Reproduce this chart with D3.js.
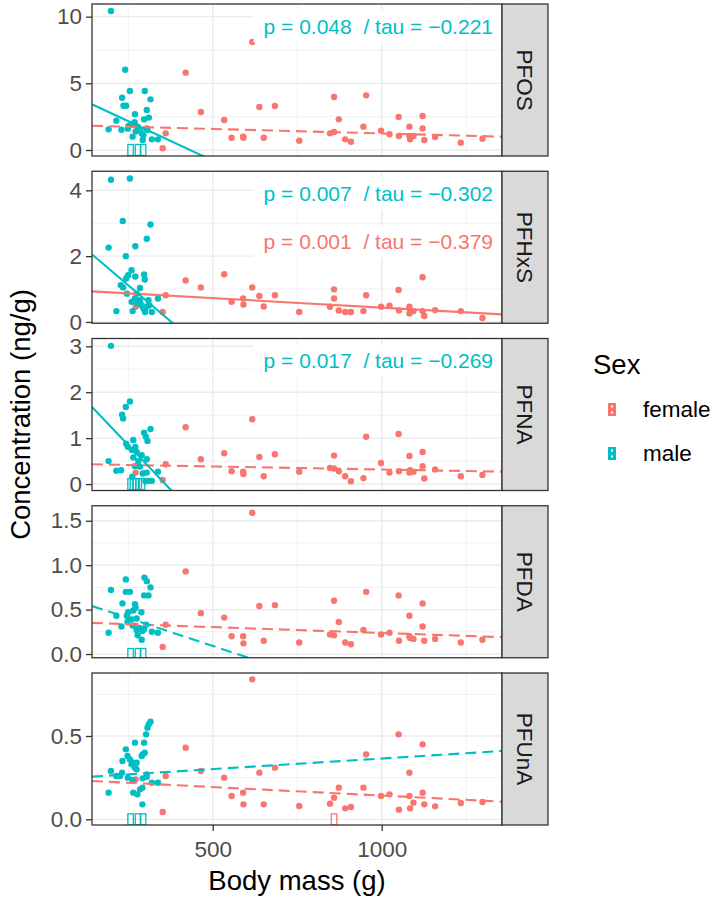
<!DOCTYPE html>
<html><head><meta charset="utf-8">
<script src="https://cdn.jsdelivr.net/npm/d3@7"></script>
<style>
body{margin:0;background:#fff}
text{font-family:"Liberation Sans",Arial,Helvetica,sans-serif}
</style>
</head><body>
<svg id="c" width="715" height="900"></svg>
<script>
// ---------------- DATA ----------------
const compounds = ["PFOS", "PFHxS", "PFNA", "PFDA", "PFUnA"];
const sexes = ["female", "male"];

// body mass (g) of females, same birds in every panel
const femaleMass = [272,352,361,420,465,534,556,590,591,617,638,651,684,756,847,859,859,873,892,909,
                    946,954,998,1023,1050,1051,1082,1082,1084,1094,1121,1121,1126,1158,1234,1298];
// female concentrations (ng/g), same order as femaleMass; 0 = below detection
const femalePFOS  = [1.4,0.13,1.25,5.8,2.85,2.25,0.92,1.0,0.92,8.1,3.22,0.92,3.3,0.7,1.25,3.97,1.35,2.3,0.8,0.62,
                     1.75,4.1,1.45,1.18,2.48,1.05,1.75,1.05,0.8,1.05,2.55,1.62,0.75,0.97,0.55,0.85];
const femalePFHxS = [0.46,0.3,0.81,1.26,1.05,1.45,0.61,0.71,0.53,1.05,0.79,0.47,0.81,0.3,0.46,0.99,0.71,0.35,0.3,0.3,
                     0.33,0.81,0.46,0.49,0.97,0.35,0.46,0.26,0.3,0.33,1.36,0.33,0.18,0.36,0.33,0.12];
const femalePFNA  = [0.25,0.09,0.43,1.24,0.54,0.67,0.28,0.27,0.22,1.41,0.59,0.17,0.65,0.27,0.35,0.62,0.34,0.28,0.17,0.06,
                     0.13,1.03,0.46,0.25,1.09,0.28,0.61,0.25,0.3,0.27,0.7,0.39,0.12,0.32,0.17,0.2];
const femalePFDA  = [0.32,0.08,0.33,0.93,0.46,0.41,0.2,0.2,0.12,1.59,0.54,0.15,0.55,0.13,0.22,0.6,0.21,0.36,0.13,0.11,
                     0.27,0.7,0.22,0.24,0.66,0.15,0.43,0.2,0.18,0.17,0.57,0.31,0.15,0.17,0.13,0.16];
const femalePFUnA = [0.24,0.044,0.26,0.43,0.29,0.25,0.14,0.16,0.09,0.84,0.28,0.09,0.31,0.08,0.094,0.13,0,0.19,0.066,0.074,
                     0.19,0.39,0.14,0.15,0.51,0.058,0.28,0.14,0.066,0.1,0.45,0.16,0.09,0.078,0.098,0.104];

// males: [body mass (g), concentration (ng/g)]; 0 = below detection
const malePFOS = [[199,10.43],[241,6.02],[255,4.43],[299,4.43],[232,3.92],[316,3.8],[236,3.32],[244,3.32],[305,3.0],
  [270,2.68],[311,2.43],[297,2.3],[215,2.2],[269,2.08],[251,1.8],[261,1.93],[278,1.75],[192,1.55],[230,1.52],[285,1.5],
  [307,1.5],[305,1.62],[320,0.8],[338,0.8],[263,1.0],[290,1.25],[293,0.75],[295,1.1],[273,1.4],[249,1.6],
  [257,0],[279,0],[294,0]];
const malePFHxS = [[199,4.32],[255,4.36],[234,3.07],[316,2.96],[305,2.53],[271,2.3],[192,2.26],[243,2.0],[260,1.57],
  [297,1.44],[271,1.38],[250,1.42],[244,1.32],[299,1.29],[228,1.12],[235,1.05],[285,1.03],[246,0.86],[275,0.86],
  [338,0.71],[310,0.66],[260,0.61],[270,0.71],[285,0.66],[290,0.51],[305,0.46],[320,0.3],[263,0.33],[215,0.33],
  [300,0.3],[295,0.41],[312,0.51],[278,0.56]];
const malePFNA = [[199,3.01],[255,1.8],[243,1.68],[232,1.51],[235,1.43],[316,1.2],[297,1.12],[302,1.03],[307,0.94],
  [265,0.96],[244,0.88],[249,0.81],[271,0.81],[261,0.74],[275,0.7],[290,0.63],[265,0.58],[305,0.54],[192,0.5],
  [280,0.5],[270,0.39],[285,0.38],[338,0.27],[215,0.29],[229,0.3],[293,0.23],[305,0.25],[262,0.16],[320,0.07],
  [310,0.07],[301,0.06],[257,0],[264,0],[272,0],[281,0],[291,0]];
const malePFDA = [[243,0.84],[298,0.86],[305,0.82],[316,0.75],[199,0.72],[243,0.7],[255,0.7],[297,0.66],[310,0.66],
  [233,0.57],[270,0.56],[272,0.52],[265,0.49],[250,0.47],[289,0.47],[215,0.43],[246,0.43],[275,0.4],[260,0.39],
  [248,0.36],[263,0.32],[230,0.31],[303,0.33],[285,0.29],[297,0.28],[320,0.25],[338,0.24],[192,0.24],[292,0.26],
  [278,0.21],[290,0.16],[275,0.27],[257,0],[279,0],[294,0]];
const malePFUnA = [[316,0.586],[311,0.57],[307,0.55],[303,0.51],[297,0.46],[270,0.46],[243,0.42],[299,0.40],[293,0.39],
  [290,0.38],[248,0.38],[255,0.36],[233,0.35],[265,0.34],[275,0.34],[260,0.33],[199,0.29],[270,0.31],[232,0.28],
  [305,0.27],[305,0.256],[215,0.26],[226,0.26],[249,0.25],[263,0.236],[293,0.246],[320,0.22],[338,0.22],[292,0.19],
  [285,0.18],[192,0.16],[265,0.16],[277,0.15],[292,0.09],[275,0.3],[257,0],[279,0],[294,0]];

// Regression fits: concentration = intercept + slope * mass
const fitInterceptFemale = [1.917, 1.0125, 0.449, 0.369, 0.2446];
const fitSlopeFemale     = [-0.000676, -0.000577, -0.000132, -0.000132, -0.000102];
const fitSignifFemale    = [false, true, false, false, false];
const fitInterceptMale   = [5.12, 3.30, 2.788, 0.72, 0.238];
const fitSlopeMale       = [-0.01183, -0.00874, -0.00775, -0.001258, 0.000127];
const fitSignifMale      = [true, true, true, false, false];

// Significance annotations
const annCompound = ["PFOS", "PFHxS", "PFHxS", "PFNA"];
const annSex      = ["male", "male", "female", "male"];
const annRow      = [0, 0, 1, 0];
const annText     = ["p = 0.048  / tau = \u22120.221", "p = 0.007  / tau = \u22120.302",
                     "p = 0.001  / tau = \u22120.379", "p = 0.017  / tau = \u22120.269"];

// Scales / ticks
const xDomain = [142.9, 1355.9];
const xTicks = [500, 1000];
const xMinor = [250, 750, 1250];
const yDomains = [[-0.45, 10.95], [-0.04, 4.58], [-0.14, 3.17], [-0.042, 1.669], [-0.034, 0.878]];
const yTicks = [[0, 5, 10], [0, 2, 4], [0, 1, 2, 3], [0, 0.5, 1, 1.5], [0, 0.5]];
const yTickLabels = [["0","5","10"], ["0","2","4"], ["0","1","2","3"], ["0.0","0.5","1.0","1.5"], ["0.0","0.5"]];
const yMinor = [[2.5, 7.5], [1, 3], [0.5, 1.5, 2.5], [0.25, 0.75, 1.25], [0.25, 0.75]];

const femaleSeries = [femalePFOS, femalePFHxS, femalePFNA, femalePFDA, femalePFUnA];
const maleSeries = [malePFOS, malePFHxS, malePFNA, malePFDA, malePFUnA];

// ---------------- DRAW ----------------
const svg = d3.select("#c");
const L = 92, R = 502, SW = 46, top0 = 4, step = 167.25, H = 152;
const x = d3.scaleLinear().domain(xDomain).range([L, R]);
const color = d3.scaleOrdinal().domain(sexes).range(["#F8766D", "#00BFC4"]);
const defs = svg.append("defs");

compounds.forEach((cmp, i) => {
  const t = top0 + i * step;
  const y = d3.scaleLinear().domain(yDomains[i]).range([t + H, t]);
  const clipId = "clip" + i;
  defs.append("clipPath").attr("id", clipId).append("rect")
    .attr("x", L).attr("y", t).attr("width", R - L).attr("height", H);
  const g = svg.append("g");
  g.append("rect").attr("x", L).attr("y", t).attr("width", R - L).attr("height", H).attr("fill", "#fff");
  const pg = g.append("g").attr("clip-path", `url(#${clipId})`);

  // grid
  pg.selectAll(".ymin").data(yMinor[i]).join("line")
    .attr("x1", L).attr("x2", R).attr("y1", d => y(d)).attr("y2", d => y(d))
    .attr("stroke", "#EBEBEB").attr("stroke-width", 0.7);
  pg.selectAll(".xmin").data(xMinor).join("line")
    .attr("y1", t).attr("y2", t + H).attr("x1", d => x(d)).attr("x2", d => x(d))
    .attr("stroke", "#EBEBEB").attr("stroke-width", 0.7);
  pg.selectAll(".ymaj").data(yTicks[i]).join("line")
    .attr("x1", L).attr("x2", R).attr("y1", d => y(d)).attr("y2", d => y(d))
    .attr("stroke", "#EBEBEB").attr("stroke-width", 1.4);
  pg.selectAll(".xmaj").data(xTicks).join("line")
    .attr("y1", t).attr("y2", t + H).attr("x1", d => x(d)).attr("x2", d => x(d))
    .attr("stroke", "#EBEBEB").attr("stroke-width", 1.4);

  // points
  const fem = femaleMass.map((m, k) => ({mass: m, conc: femaleSeries[i][k], sex: "female"}));
  const mal = maleSeries[i].map(d => ({mass: d[0], conc: d[1], sex: "male"}));
  const all = fem.concat(mal);
  pg.selectAll(".pt").data(all.filter(d => d.conc > 0)).join("circle")
    .attr("cx", d => x(d.mass)).attr("cy", d => y(d.conc)).attr("r", 3.2)
    .attr("fill", d => color(d.sex));

  // fitted lines (full range)
  const fits = [
    {sex: "female", a: fitInterceptFemale[i], b: fitSlopeFemale[i], sig: fitSignifFemale[i]},
    {sex: "male", a: fitInterceptMale[i], b: fitSlopeMale[i], sig: fitSignifMale[i]}
  ];
  pg.selectAll(".fit").data(fits).join("line")
    .attr("x1", x(xDomain[0])).attr("x2", x(xDomain[1]))
    .attr("y1", d => y(d.a + d.b * xDomain[0])).attr("y2", d => y(d.a + d.b * xDomain[1]))
    .attr("stroke", d => color(d.sex)).attr("stroke-width", 2.1)
    .attr("stroke-dasharray", d => d.sig ? null : "11,6");

  // below-detection glyphs
  pg.selectAll(".nd").data(all.filter(d => d.conc === 0)).join("rect")
    .attr("x", d => x(d.mass) - 2.75).attr("y", y(0) - 5.5).attr("width", 5.5).attr("height", 11)
    .attr("fill", "none").attr("stroke", d => color(d.sex)).attr("stroke-width", 1.3);

  // annotations
  annCompound.forEach((c, k) => {
    if (c !== cmp) return;
    const ag = pg.append("g");
    const rect = ag.append("rect").attr("fill", "#fff");
    const tx = ag.append("text").attr("x", 493).attr("y", t + 29.5 + annRow[k] * 47.8)
      .attr("text-anchor", "end").attr("font-size", 21).attr("fill", color(annSex[k]))
      .style("white-space", "pre").text(annText[k]);
    const bb = tx.node().getBBox();
    rect.attr("x", bb.x - 10).attr("width", bb.width + 20)
      .attr("y", t + 29.5 + annRow[k] * 47.8 - 23).attr("height", 32);
  });

  // border
  g.append("rect").attr("x", L).attr("y", t).attr("width", R - L).attr("height", H)
    .attr("fill", "none").attr("stroke", "#333333").attr("stroke-width", 1.3);

  // strip
  g.append("rect").attr("x", R).attr("y", t).attr("width", SW).attr("height", H)
    .attr("fill", "#D9D9D9").attr("stroke", "#333333").attr("stroke-width", 1.3);
  g.append("text").attr("transform", `translate(${R + SW / 2},${t + H / 2}) rotate(90)`)
    .attr("text-anchor", "middle").attr("dy", "0.36em").attr("font-size", 22.5).attr("fill", "#1A1A1A")
    .text(cmp);

  // y axis
  const ya = d3.axisLeft(y).tickValues(yTicks[i]).tickFormat((d, k) => yTickLabels[i][k])
    .tickSize(6).tickPadding(4);
  const yg = svg.append("g").attr("transform", `translate(${L},0)`).call(ya);
  yg.select(".domain").remove();
  yg.selectAll("line").attr("stroke", "#333333").attr("stroke-width", 1.3);
  yg.selectAll("text").attr("font-size", 22.5).attr("fill", "#4D4D4D")
    .attr("font-family", '"Liberation Sans",Arial,sans-serif');

  if (i === compounds.length - 1) {
    const xa = d3.axisBottom(x).tickValues(xTicks).tickFormat(d3.format("d")).tickSize(6).tickPadding(10);
    const xg = svg.append("g").attr("transform", `translate(0,${t + H})`).call(xa);
    xg.select(".domain").remove();
    xg.selectAll("line").attr("stroke", "#333333").attr("stroke-width", 1.3);
    xg.selectAll("text").attr("font-size", 22.5).attr("fill", "#4D4D4D")
      .attr("font-family", '"Liberation Sans",Arial,sans-serif');
  }
});

// axis titles
svg.append("text").attr("x", (L + R) / 2).attr("y", 890).attr("text-anchor", "middle")
  .attr("font-size", 27.5).attr("fill", "#000").text("Body mass (g)");
svg.append("text").attr("transform", `translate(30,${top0 + (4 * step + H) / 2}) rotate(-90)`)
  .attr("text-anchor", "middle").attr("font-size", 27.5).attr("fill", "#000").text("Concentration (ng/g)");

// legend
const lg = svg.append("g");
lg.append("text").attr("x", 593).attr("y", 374).attr("font-size", 27.5).attr("fill", "#000").text("Sex");
sexes.forEach((s, k) => {
  const cy = 409.5 + k * 44;
  lg.append("rect").attr("x", 608).attr("y", cy - 6.5).attr("width", 8).attr("height", 13).attr("fill", color(s));
  lg.append("rect").attr("x", 611).attr("y", cy - 4).attr("width", 2).attr("height", 2).attr("fill", "#fff");
  lg.append("rect").attr("x", 611).attr("y", cy + 2).attr("width", 2).attr("height", 2).attr("fill", "#fff");
  lg.append("text").attr("x", 643).attr("y", cy + 7).attr("font-size", 22.5).attr("fill", "#000").text(s);
});
</script>
</body></html>
